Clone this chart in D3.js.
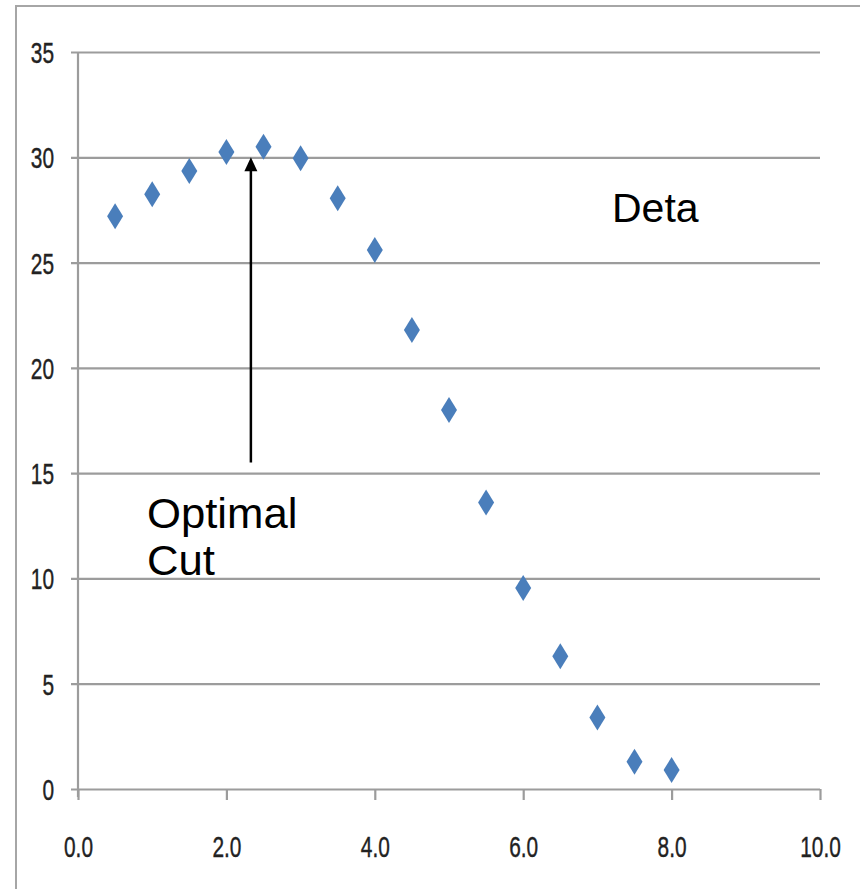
<!DOCTYPE html>
<html>
<head>
<meta charset="utf-8">
<script src="https://cdn.jsdelivr.net/npm/d3@7"></script>
<style>
  html, body { margin: 0; padding: 0; background: #fff; }
  svg { display: block; }
</style>
</head>
<body>
<script>
// Cut position vs. measured yield
const xValues = [0.5, 1.0, 1.5, 2.0, 2.5, 3.0, 3.5, 4.0, 4.5, 5.0, 5.5, 6.0, 6.5, 7.0, 7.5, 8.0];
const yValues = [27.2, 28.25, 29.35, 30.25, 30.5, 29.95, 28.05, 25.6, 21.8, 18.0, 13.6, 9.55, 6.3, 3.4, 1.3, 0.9];
const xTicks = [0, 2, 4, 6, 8, 10];
const yTicks = [0, 5, 10, 15, 20, 25, 30, 35];
const seriesLabel = "Deta";
const annotationLines = ["Optimal", "Cut"];
const arrowX = 2.33;
const arrowFrom = 15.5;
const arrowTo = 30.0;

const W = 860, H = 889;
const svg = d3.select("body").append("svg").attr("width", W).attr("height", H);

// outer frame (top and left edges)
svg.append("path")
  .attr("d", `M16,${H} L16,6 L${W},6`)
  .attr("fill", "none").attr("stroke", "#a6a6a6").attr("stroke-width", 2);

const x = d3.scaleLinear().domain([0, 10]).range([78, 820]);
const y = d3.scaleLinear().domain([0, 35]).range([789, 52]);

const gridColor = "#9c9c9c";
const labelFont = "'Liberation Sans', Arial, sans-serif";
const labelSize = 29;
const squeeze = 0.72;

// horizontal gridlines + y axis
const yAxis = d3.axisLeft(y).tickValues(yTicks).tickFormat(d3.format("d"))
  .tickSize(-(x(10) - x(0)));
const gy = svg.append("g").attr("transform", `translate(${x(0)},0)`).call(yAxis);
gy.select(".domain").remove();
gy.selectAll(".tick line")
  .attr("x1", -7)
  .attr("stroke", gridColor).attr("stroke-width", 2.2);
gy.selectAll(".tick text")
  .attr("font-family", labelFont).attr("font-size", labelSize).attr("fill", "#222")
  .attr("stroke", "#222").attr("stroke-width", 0.4)
  .attr("x", 0).attr("dy", "0.36em")
  .attr("transform", `translate(-24,0) scale(${squeeze},1)`);

// vertical y axis line
svg.append("line")
  .attr("x1", x(0)).attr("x2", x(0)).attr("y1", y(35)).attr("y2", y(0) + 8)
  .attr("stroke", gridColor).attr("stroke-width", 2.2);

// x axis
const xAxis = d3.axisBottom(x).tickValues(xTicks).tickFormat(d3.format(".1f"))
  .tickSize(11);
const gx = svg.append("g").attr("transform", `translate(0,${y(0)})`).call(xAxis);
gx.select(".domain").remove();
gx.selectAll(".tick line").attr("stroke", gridColor).attr("stroke-width", 2.2);
gx.selectAll(".tick text")
  .attr("font-family", labelFont).attr("font-size", labelSize).attr("fill", "#222")
  .attr("stroke", "#222").attr("stroke-width", 0.4)
  .attr("y", 0).attr("dy", 0)
  .attr("transform", `translate(0,68) scale(${squeeze},1)`);

// diamond markers
const pts = xValues.map((v, i) => ({ x: v, y: yValues[i] }));
const hw = 8, hh = 13;
svg.append("g").selectAll("path").data(pts).join("path")
  .attr("d", d => {
    const cx = x(d.x), cy = y(d.y);
    return `M${cx},${cy - hh} L${cx + hw},${cy} L${cx},${cy + hh} L${cx - hw},${cy} Z`;
  })
  .attr("fill", "#4a7ebb");

// annotation arrow
const ax = x(arrowX);
const tipY = y(arrowTo);
svg.append("line")
  .attr("x1", ax).attr("x2", ax).attr("y1", y(arrowFrom)).attr("y2", tipY + 10)
  .attr("stroke", "#000").attr("stroke-width", 2.5);
svg.append("path")
  .attr("d", `M${ax},${tipY} L${ax + 6.5},${tipY + 14} L${ax - 6.5},${tipY + 14} Z`)
  .attr("fill", "#000");

// annotation text
const textFont = "'Liberation Sans', Arial, sans-serif";
svg.append("text")
  .attr("x", 612).attr("y", 222)
  .attr("font-family", textFont).attr("font-size", 41).attr("fill", "#000")
  .text(seriesLabel);

const t = svg.append("text")
  .attr("font-family", textFont).attr("font-size", 42).attr("fill", "#000")
  .attr("transform", "translate(147,0) scale(1.04,1)");
annotationLines.forEach((s, i) => {
  t.append("tspan").attr("x", 0).attr("y", 528 + i * 47).text(s);
});
</script>
</body>
</html>
